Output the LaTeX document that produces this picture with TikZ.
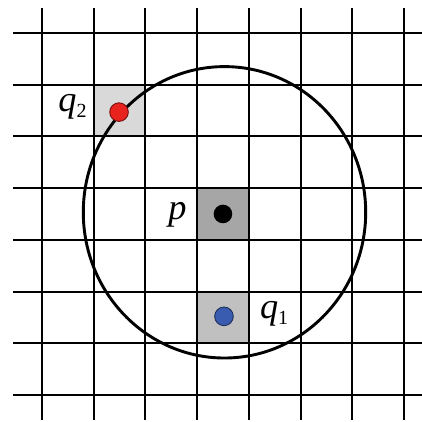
\documentclass[tikz,border=0pt]{standalone}
\usepackage{fontspec}
\setmainfont{Liberation Serif}
\newfontfamily\labit{Liberation Serif Italic}
\usepackage{tikz}
\usetikzlibrary{positioning,calc}
\definecolor{cellp}{HTML}{A6A6A6}
\definecolor{cellqa}{HTML}{C0C0C0}
\definecolor{cellqb}{HTML}{D9D9D9}
\definecolor{dotred}{HTML}{E8231E}
\definecolor{dotblue}{HTML}{3A5CB0}
\newcommand{\qlab}[1]{{\labit q}\raisebox{-0.35ex}{\fontsize{11}{11}\selectfont #1}}

\begin{document}
\begin{tikzpicture}[
  gridln/.style={black,line width=1.1pt},
  cellbox/.style={minimum size=1cm,inner sep=0pt,outer sep=0pt},
  dot/.style={circle,minimum size=0.36cm,inner sep=0pt,line width=0.5pt},
  lab/.style={font=\fontsize{20}{22}\selectfont,inner sep=1pt}]
\useasboundingbox (-0.812,0.638) rectangle (7.350,-7.505);
% shaded cells
\node[cellbox,fill=cellqb] (c2) at (1.5,-1.5) {};
\node[cellbox,fill=cellp]  (cp) at (3.5,-3.5) {};
\node[cellbox,fill=cellqa] (c1) at (3.5,-5.5) {};
% grid
\foreach \i in {0,...,7}{
  \draw[gridln] (\i,0.484) -- (\i,-7.485);
  \draw[gridln] (-0.561,-\i) -- (7.35,-\i);
}
% range round p
\coordinate (ctr) at (3.53,-3.468);
\draw[line width=1.6pt] (ctr) ellipse [x radius=2.731,y radius=2.818];
% points
\node[dot,fill=black] (p) at (3.5,-3.5) {};
\node[dot,fill=dotred,draw=dotred!50!black] (q2) at (1.49,-1.53) {};
\node[dot,fill=dotblue,draw=dotblue!50!black] (q1) at (3.52,-5.48) {};
% labels
\node[lab] (lq2) at (0.59,-1.43) {\qlab{2}};
\node[lab] (lp)  at (2.62,-3.52) {\labit p};
\node[lab] (lq1) at (4.49,-5.43) {\qlab{1}};
\end{tikzpicture}
\end{document}
